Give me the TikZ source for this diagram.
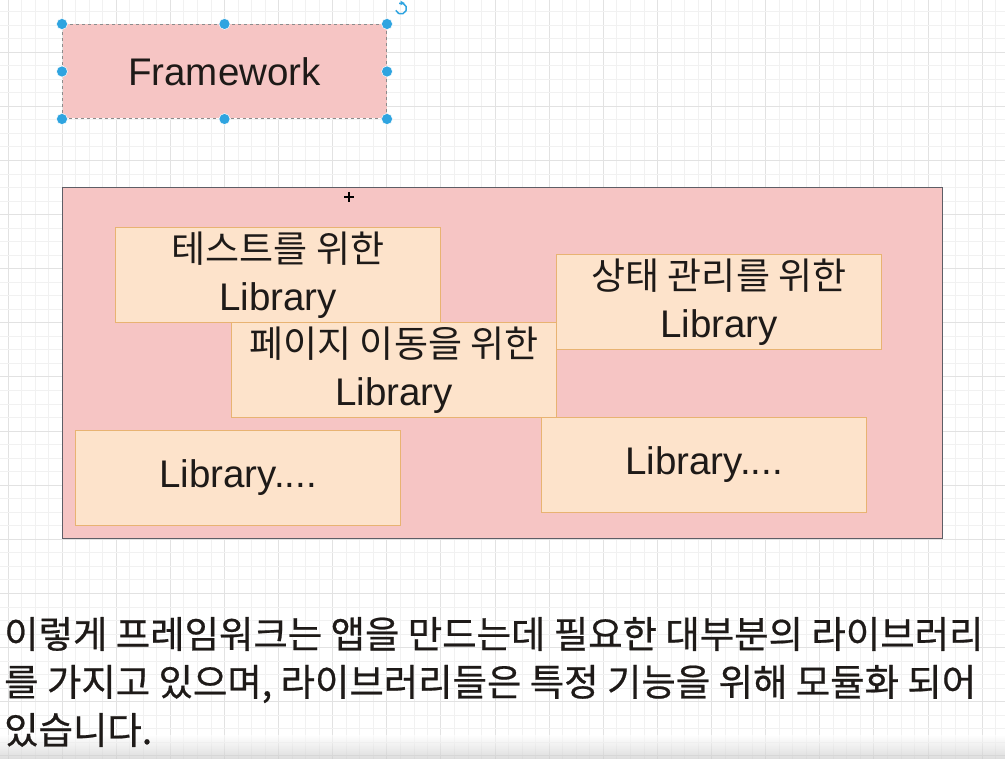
\documentclass[tikz,border=0pt]{standalone}
\usepackage{fontspec}
\setmainfont{Liberation Sans}
\newfontfamily\kr{Noto Sans CJK KR}
\newfontfamily\krm[FakeBold=0.6]{Noto Sans CJK KR}
\usetikzlibrary{arrows.meta}
\definecolor{gridminor}{HTML}{F1F1F1}
\definecolor{gridmajor}{HTML}{E2E2E2}
\definecolor{pinkfill}{HTML}{F6C5C4}
\definecolor{outerline}{HTML}{5E5E66}
\definecolor{libfill}{HTML}{FDE3CB}
\definecolor{libline}{HTML}{E8B372}
\definecolor{handleblue}{HTML}{2FA4E0}
\definecolor{txt}{HTML}{1E1A18}
\tikzset{
  gridminorline/.style={draw=gridminor, line width=0.6pt},
  gridmajorline/.style={draw=gridmajor, line width=0.8pt},
  framebox/.style={draw=outerline, fill=pinkfill, line width=1.4pt, anchor=north west, inner sep=0pt},
  fwbox/.style={draw=gray!90, dashed, fill=pinkfill, line width=1pt, anchor=north west, inner sep=0pt, text=txt},
  libbox/.style={draw=libline, fill=libfill, line width=1pt, anchor=north west, inner sep=0pt,
    minimum width=325pt, minimum height=95pt, align=center, text=txt,
    font=\fontsize{38.5}{48}\selectfont},
  handle/.style={circle, fill=handleblue, draw=white, line width=0.5pt, minimum size=11pt, inner sep=0pt},
  caption/.style={anchor=west, inner sep=0pt, text=txt, font=\krm\fontsize{37.4}{44}\selectfont},
}
\newcommand{\krt}[1]{{\kr\fontsize{37}{48}\selectfont #1}}
\begin{document}
\begin{tikzpicture}[x=1pt,y=-1pt]
\useasboundingbox (0,0) rectangle (1005,759);
\fill[white] (0,0) rectangle (1005,759);
% grid
\foreach \i in {0,...,74} {
  \pgfmathtruncatemacro{\m}{mod(\i,4)}
  \ifnum\m=0
    \draw[gridmajorline] ({7.9+\i*13.53},0) -- ({7.9+\i*13.53},759);
  \else
    \draw[gridminorline] ({7.9+\i*13.53},0) -- ({7.9+\i*13.53},759);
  \fi
}
\foreach \j in {0,...,56} {
  \pgfmathtruncatemacro{\m}{mod(\j,4)}
  \ifnum\m=3
    \draw[gridmajorline] (0,{11.5+\j*13.53}) -- (1005,{11.5+\j*13.53});
  \else
    \draw[gridminorline] (0,{11.5+\j*13.53}) -- (1005,{11.5+\j*13.53});
  \fi
}
% Framework box (selected)
\node[fwbox, minimum width=324pt, minimum height=94pt, font=\fontsize{38.5}{44}\selectfont] (fw) at (62,24) {Framework};
\foreach \a in {north west, north, north east, west, east, south west, south, south east}
  \node[handle] at (fw.\a) {};
\coordinate (rot) at (401,8.5);
\draw[handleblue, line width=1.5pt] (rot) ++(-200:5.5) arc[start angle=-200, end angle=-470, radius=5.5];
\fill[handleblue] (rot) ++(-0.5,-7.8) -- ++(4,2.3) -- ++(-4,2.3) -- cycle;
% big container
\node[framebox, minimum width=880pt, minimum height=351pt] (fwk) at (62,187) {};
% cursor
\coordinate (cur) at (349,197);
\draw[black, line width=1.6pt] (cur) ++(-5,0) -- ++(10,0);
\draw[black, line width=1.6pt] (cur) ++(0,-5) -- ++(0,10);
% libraries
\node[libbox] (lib1) at (115,227) {\krt{테스트를 위한}\\Library};
\node[libbox] (lib2) at (231,322) {\krt{페이지 이동을 위한}\\Library};
\node[libbox] (lib3) at (556,254) {\krt{상태 관리를 위한}\\Library};
\node[libbox] (lib4) at (75,430) {Library....};
\node[libbox] (lib5) at (541,417) {Library....};
% bottom shadow
\shade[top color=white, bottom color=black!22, opacity=0.6] (0,735) rectangle (1005,759);
% caption
\node[caption] (cap1) at (4,634) {이렇게 프레임워크는 앱을 만드는데 필요한 대부분의 라이브러리};
\node[caption] (cap2) at (4,684) {를 가지고 있으며, 라이브러리들은 특정 기능을 위해 모듈화 되어};
\node[caption] (cap3) at (4,730) {있습니다.};
\end{tikzpicture}
\end{document}
